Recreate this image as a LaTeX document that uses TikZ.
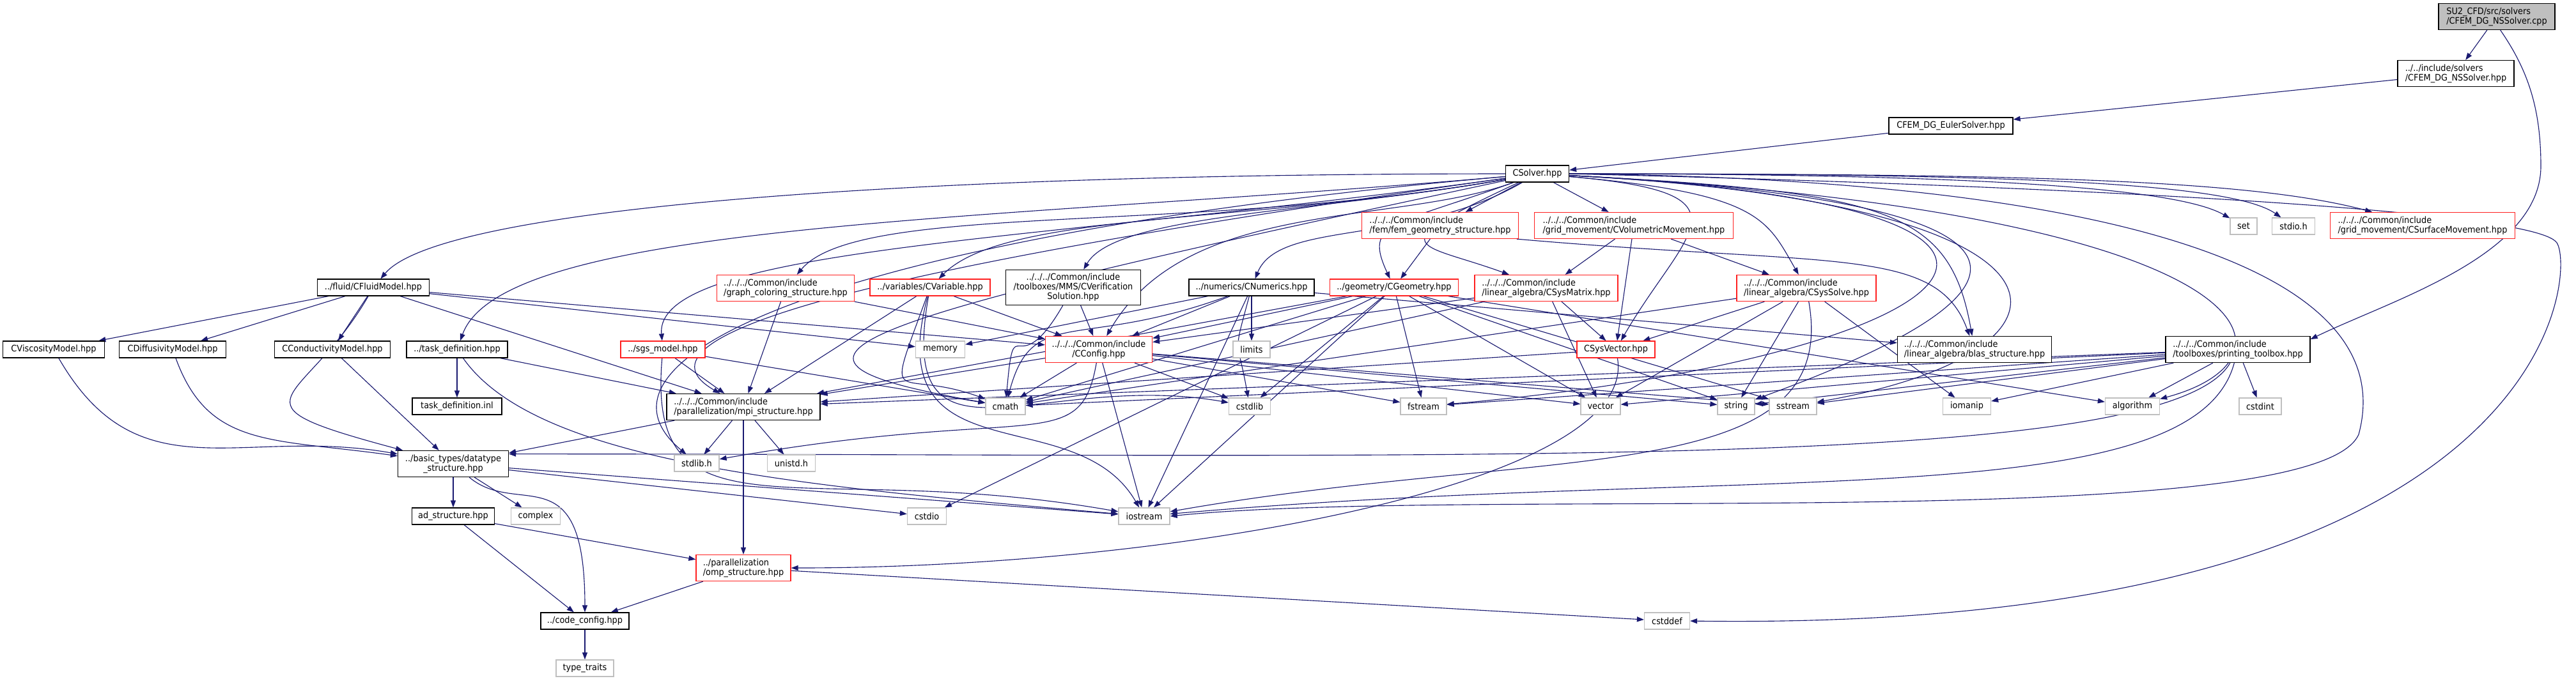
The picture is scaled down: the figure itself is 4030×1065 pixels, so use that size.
\documentclass[tikz,border=0pt]{standalone}
\usepackage{fontspec}
\setmainfont{DejaVu Sans}[FakeStretch=0.92]
\usetikzlibrary{arrows.meta, backgrounds}
\definecolor{edgeblue}{HTML}{191970}
\definecolor{boxred}{HTML}{FF2020}
\definecolor{sysgray}{HTML}{BFBFBF}
\tikzset{
  dep/.style={-{Triangle[length=2.75pt,width=2pt]}, line width=0.28pt, edgeblue},
  hdrbox/.style={rectangle, draw=black, fill=white, line width=0.32pt, inner sep=0.75pt, align=left, font=\fontsize{3.5}{3.75}\selectfont},
  redbox/.style={hdrbox, draw=boxred},
  sysbox/.style={hdrbox, draw=sysgray},
  srcbox/.style={hdrbox, fill=sysgray},
  lone/.style={minimum height=6.5pt},
  ltwo/.style={minimum height=10.25pt},
  lthree/.style={minimum height=13.75pt},
}

\begin{document}
\begin{tikzpicture}[x=0.25pt, y=0.25pt]
  \useasboundingbox (0,0) rectangle (4030,-1065);

  % source file and solver chain
  \node[srcbox, ltwo, minimum width=45.5pt] (SU) at (3906,-26) {SU2\_CFD/src/solvers\\/CFEM\_DG\_NSSolver.cpp};
  \node[hdrbox, ltwo, minimum width=45.5pt] (NS) at (3842,-115) {../../include/solvers\\/CFEM\_DG\_NSSolver.hpp};
  \node[hdrbox, lone, minimum width=48.5pt] (EU) at (3052,-197) {CFEM\_DG\_EulerSolver.hpp};
  \node[hdrbox, lone, minimum width=24.75pt] (CS) at (2405,-272) {CSolver.hpp};

  % first row under CSolver
  \node[redbox, ltwo, minimum width=61.25pt] (FG) at (2253,-353) {../../../Common/include\\/fem/fem\_geometry\_structure.hpp};
  \node[redbox, ltwo, minimum width=77.75pt] (VM) at (2556,-353) {../../../Common/include\\/grid\_movement/CVolumetricMovement.hpp};
  \node[sysbox, lone, minimum width=10.5pt] (SET) at (3510,-354) {set};
  \node[sysbox, lone, minimum width=16.75pt] (SIO) at (3588,-354) {stdio.h};
  \node[redbox, ltwo, minimum width=72.25pt] (SM) at (3790,-353) {../../../Common/include\\/grid\_movement/CSurfaceMovement.hpp};

  % second row
  \node[hdrbox, lone, minimum width=43.75pt] (FL) at (584,-450) {../fluid/CFluidModel.hpp};
  \node[redbox, ltwo, minimum width=53.75pt] (GC) at (1229,-451) {../../../Common/include\\/graph\_coloring\_structure.hpp};
  \node[redbox, lone, minimum width=47pt] (VA) at (1455,-450) {../variables/CVariable.hpp};
  \node[hdrbox, lthree, minimum width=52.75pt, align=center] (VS) at (1679,-450) {../../../Common/include\\/toolboxes/MMS/CVerification\\Solution.hpp};
  \node[hdrbox, lone, minimum width=49pt] (NU) at (1958,-450) {../numerics/CNumerics.hpp};
  \node[redbox, lone, minimum width=50.25pt] (GE) at (2181,-450) {../geometry/CGeometry.hpp};
  \node[redbox, ltwo, minimum width=56pt] (SMX) at (2419,-451) {../../../Common/include\\/linear\_algebra/CSysMatrix.hpp};
  \node[redbox, ltwo, minimum width=54.5pt] (SSV) at (2826,-451) {../../../Common/include\\/linear\_algebra/CSysSolve.hpp};

  % third row
  \node[hdrbox, lone, minimum width=39.75pt] (VI) at (84,-547) {CViscosityModel.hpp};
  \node[hdrbox, lone, minimum width=41.75pt] (DI) at (270,-547) {CDiffusivityModel.hpp};
  \node[hdrbox, lone, minimum width=45.25pt] (CO) at (520,-547) {CConductivityModel.hpp};
  \node[hdrbox, lone, minimum width=39.5pt] (TD) at (715,-547) {../task\_definition.hpp};
  \node[redbox, lone, minimum width=33pt] (SG) at (1037,-547) {../sgs\_model.hpp};
  \node[sysbox, lone, minimum width=19.25pt] (MEM) at (1471,-547) {memory};
  \node[redbox, ltwo, minimum width=41.75pt, align=center] (CF) at (1719,-547) {../../../Common/include\\/CConfig.hpp};
  \node[sysbox, lone, minimum width=14.5pt] (LIM) at (1958,-547) {limits};
  \node[redbox, lone, minimum width=30.5pt] (SV) at (2528,-547) {CSysVector.hpp};
  \node[hdrbox, ltwo, minimum width=60.25pt] (BL) at (3089,-547) {../../../Common/include\\/linear\_algebra/blas\_structure.hpp};
  \node[hdrbox, ltwo, minimum width=56.5pt] (PT) at (3501,-547) {../../../Common/include\\/toolboxes/printing\_toolbox.hpp};

  % fourth row
  \node[hdrbox, lone, minimum width=35pt] (TI) at (715,-636) {task\_definition.inl};
  \node[hdrbox, ltwo, minimum width=60pt] (MPI) at (1163,-637) {../../../Common/include\\/parallelization/mpi\_structure.hpp};
  \node[sysbox, lone, minimum width=15.5pt] (CMA) at (1573,-636) {cmath};
  \node[sysbox, lone, minimum width=16.25pt] (CSL) at (1955,-636) {cstdlib};
  \node[sysbox, lone, minimum width=18pt] (FST) at (2227,-636) {fstream};
  \node[sysbox, lone, minimum width=15.5pt] (VEC) at (2504,-636) {vector};
  \node[sysbox, lone, minimum width=14.5pt] (STR) at (2716,-636) {string};
  \node[sysbox, lone, minimum width=18.5pt] (SST) at (2805,-636) {sstream};
  \node[sysbox, lone, minimum width=18.75pt] (IOM) at (3077,-636) {iomanip};
  \node[sysbox, lone, minimum width=21.25pt] (ALG) at (3336,-636) {algorithm};
  \node[sysbox, lone, minimum width=16.5pt] (CSI) at (3536,-636) {cstdint};

  % lower rows
  \node[hdrbox, ltwo, minimum width=43.25pt, align=center] (DT) at (709,-726) {../basic\_types/datatype\\\_structure.hpp};
  \node[sysbox, lone, minimum width=17.5pt] (SLH) at (1090,-725) {stdlib.h};
  \node[sysbox, lone, minimum width=18.75pt] (UNI) at (1238,-725) {unistd.h};
  \node[hdrbox, lone, minimum width=32.25pt] (AD) at (709,-808) {ad\_structure.hpp};
  \node[sysbox, lone, minimum width=19.25pt] (CPX) at (838,-808) {complex};
  \node[sysbox, lone, minimum width=15.25pt] (CDO) at (1450,-808) {cstdio};
  \node[sysbox, lone, minimum width=20pt] (IOS) at (1790,-808) {iostream};
  \node[redbox, ltwo, minimum width=37pt] (OMP) at (1163,-889) {../parallelization\\/omp\_structure.hpp};
  \node[hdrbox, lone, minimum width=34.5pt] (CC) at (915,-972) {../code\_config.hpp};
  \node[sysbox, lone, minimum width=17.75pt] (CDF) at (2608,-972) {cstddef};
  \node[sysbox, lone, minimum width=22.5pt] (TT) at (915,-1046) {type\_traits};

  \begin{scope}[on background layer]
    % top chain
    \draw[dep] (SU) -- (NS);
    \draw[dep] (SU.-75) .. controls (3955,-110) and (3975,-170) .. (3975,-260)
      .. controls (3975,-400) and (3740,-470) .. (PT.8);
    \draw[dep] (NS) -- (EU);
    \draw[dep] (EU) -- (CS);

    % CSolver.hpp, left half of the fan
    \draw[dep] (CS) to[out=180, in=50, out distance=225pt, in distance=37.5pt] (FL);
    \draw[dep] (CS) to[out=185, in=70, out distance=200pt, in distance=50pt] (TD);
    \draw[dep] (CS) to[out=188, in=95, out distance=175pt, in distance=37.5pt] (SG);
    \draw[dep] (CS) to[out=185, in=140, out distance=250pt, in distance=62.5pt] (SLH);
    \draw[dep] (CS) to[out=188, in=150, out distance=225pt, in distance=50pt] (MPI);
    \draw[dep] (CS) to[out=190, in=50, out distance=125pt, in distance=37.5pt] (GC);
    \draw[dep] (CS) to[out=192, in=170, out distance=275pt, in distance=100pt] (CMA);
    \draw[dep] (CS) to[out=190, in=45, out distance=100pt, in distance=37.5pt] (VA);
    \draw[dep] (CS) to[out=190, in=60, out distance=75pt, in distance=25pt] (VS);
    \draw[dep] (CS) to[out=200, in=60, out distance=50pt, in distance=62.5pt] (CF);
    \draw[dep] (CS) to[out=210, in=68, out distance=50pt, in distance=25pt] (NU);
    \draw[dep] (CS) to[out=200, in=115, out distance=50pt, in distance=25pt] (GE);
    \draw[dep] (CS) -- (FG);
    \draw[dep] (CS) to[out=205, in=160, out distance=62.5pt, in distance=37.5pt] (SMX);

    % CSolver.hpp, right half of the fan
    \draw[dep] (CS) -- (VM);
    \draw[dep] (CS) to[out=-5, in=60, out distance=75pt, in distance=50pt] (SV);
    \draw[dep] (CS) to[out=-5, in=120, out distance=75pt, in distance=25pt] (SSV);
    \draw[dep] (CS) to[out=-3, in=100, out distance=125pt, in distance=50pt] (BL);
    \draw[dep] (CS) to[out=0, in=150, out distance=150pt, in distance=25pt] (SET);
    \draw[dep] (CS) to[out=0, in=145, out distance=162.5pt, in distance=25pt] (SIO);
    \draw[dep] (CS) to[out=0, in=165, out distance=175pt, in distance=50pt] (SM);
    \draw[dep] (CS) to[out=-3, in=20, out distance=200pt, in distance=125pt] (STR);
    \draw[dep] (CS) to[out=-3, in=10, out distance=212.5pt, in distance=112.5pt] (SST);
    \draw[dep] (CS) to[out=-3, in=5, out distance=237.5pt, in distance=200pt] (FST);
    \draw[dep] (CS) to[out=-3, in=15, out distance=275pt, in distance=62.5pt] (ALG);
    \draw[dep] (CS.east) .. controls (3300,-280) and (3760,-420) .. (3690,-680)
      .. controls (3620,-840) and (2300,-760) .. (IOS.east);
    \draw[dep] (CS.east) .. controls (3000,-285) and (3960,-320) .. (4000,-380)
      .. controls (4030,-425) and (4000,-990) .. (CDF.east);

    % second level
    \draw[dep] (FG) -- (GE);
    \draw[dep] (FG.-10) to[out=-5, in=110, out distance=125pt, in distance=37.5pt] (BL);
    \foreach \tgt in {SMX,SV,SSV} \draw[dep] (VM) -- (\tgt);
    \foreach \tgt in {VI,DI,CO,MPI,MEM,CF} \draw[dep] (FL) -- (\tgt);
    \draw[dep] (FL) to[out=240, in=165, out distance=50pt, in distance=75pt] (DT);
    \draw[dep] (VI) to[out=-60, in=170, out distance=62.5pt, in distance=62.5pt] (DT);
    \draw[dep] (DI) to[out=-70, in=172, out distance=37.5pt, in distance=50pt] (DT);
    \draw[dep] (CO) -- (DT);
    \foreach \tgt in {TI,MPI} \draw[dep] (TD) -- (\tgt);
    \draw[dep] (TD) to[out=-55, in=175, out distance=50pt, in distance=125pt] (IOS);
    \foreach \tgt in {MPI,CMA} \draw[dep] (SG) -- (\tgt);
    \draw[dep] (SG) to[out=-95, in=170, out distance=75pt, in distance=125pt] (IOS);
    \foreach \tgt in {MPI,CF} \draw[dep] (GC) -- (\tgt);
    \foreach \tgt in {MPI,CF} \draw[dep] (VA) -- (\tgt);
    \draw[dep] (VA) to[out=250, in=160, out distance=50pt, in distance=37.5pt] (CMA);
    \draw[dep] (VA) to[out=255, in=120, out distance=75pt, in distance=50pt] (IOS);
    \draw[dep] (VA) to[out=260, in=170, out distance=75pt, in distance=75pt] (CSL);
    \draw[dep] (VS) -- (CF);
    \draw[dep] (VS) to[out=240, in=85, out distance=37.5pt, in distance=37.5pt] (CMA);
    \foreach \tgt in {CF,LIM,IOS,BL,MEM} \draw[dep] (NU) -- (\tgt);
    \draw[dep] (NU) to[out=200, in=75, out distance=62.5pt, in distance=37.5pt] (CMA);
    \draw[dep] (NU) to[out=255, in=100, out distance=25pt, in distance=25pt] (CSL);
    \foreach \tgt in {CF,MPI,CMA,CSL,FST,VEC,STR,SST,ALG,IOS,CDO} \draw[dep] (GE) -- (\tgt);
    \foreach \tgt in {CF,SV,VEC,CMA} \draw[dep] (SMX) -- (\tgt);
    \foreach \tgt in {SV,VEC,STR,IOM,CMA} \draw[dep] (SSV) -- (\tgt);
    \draw[dep] (SSV) to[out=-80, in=10, out distance=75pt, in distance=150pt] (IOS);
    \draw[dep] (SV) -- (MPI);
    \draw[dep] (SV) to[out=-80, in=0, out distance=50pt, in distance=150pt] (OMP);
    \foreach \tgt in {MPI,CMA,IOS,CSL,FST,VEC,STR,SST} \draw[dep] (CF) -- (\tgt);
    \draw[dep] (CF) to[out=-100, in=10, out distance=37.5pt, in distance=125pt] (SLH);
    \foreach \tgt in {IOM,ALG,CSI,STR,SST,VEC,FST,CMA,MPI} \draw[dep] (PT) -- (\tgt);
    \draw[dep] (PT) to[out=-120, in=0, out distance=50pt, in distance=375pt] (DT.10);
    \draw[dep] (PT) to[out=-105, in=5, out distance=62.5pt, in distance=225pt] (IOS);

    % bottom part
    \foreach \tgt in {DT,SLH,UNI,OMP} \draw[dep] (MPI) -- (\tgt);
    \foreach \tgt in {AD,CPX,CDO,IOS} \draw[dep] (DT) -- (\tgt);
    \draw[dep] (DT) to[out=-40, in=90, out distance=25pt, in distance=62.5pt] (CC);
    \foreach \tgt in {OMP,CC} \draw[dep] (AD) -- (\tgt);
    \foreach \tgt in {CC,CDF} \draw[dep] (OMP) -- (\tgt);
    \draw[dep] (CC) -- (TT);
  \end{scope}
\end{tikzpicture}
\end{document}
